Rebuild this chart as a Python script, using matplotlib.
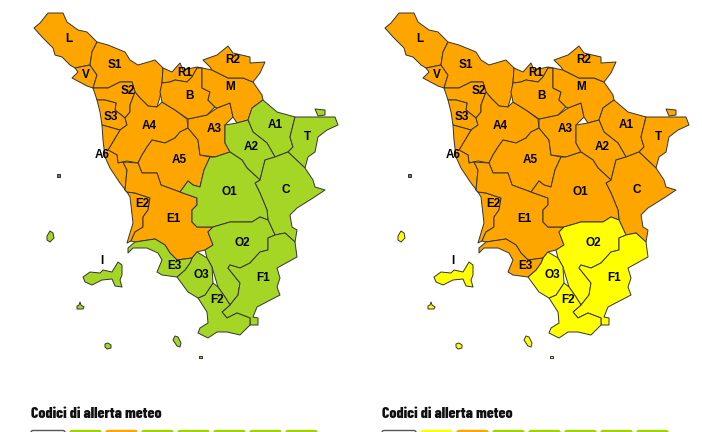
import matplotlib
matplotlib.use("Agg")
import matplotlib.pyplot as plt
from matplotlib.patches import Polygon, FancyBboxPatch

# Zone outlines (map units, left map)
L = [(48,13),(63,13),(67,22),(78,30),(87,32),(97,42),(92,52),(90,65),(75,68),(70,65),(62,57),(55,55),(53,48),(43,38),(34,28),(40,23)]
V = [(75,68),(90,65),(97,75),(93,88),(87,86),(72,78),(78,72)]
S1 = [(97,42),(108,45),(125,52),(130,60),(138,65),(155,60),(163,68),(162,83),(160,97),(157,107),(148,106),(140,98),(135,92),(132,82),(120,82),(108,88),(93,88),(97,75),(90,65),(92,52)]
S2 = [(93,88),(108,88),(120,82),(132,82),(135,92),(130,105),(130,112),(125,118),(115,110),(116,103),(105,100),(97,100)]
S3 = [(97,100),(105,100),(116,103),(115,110),(125,118),(127,125),(120,130),(102,125),(100,112)]
A4 = [(135,92),(140,98),(148,106),(157,107),(162,102),(175,110),(187,119),(188,128),(180,132),(175,138),(165,143),(152,140),(147,147),(142,155),(138,163),(127,161),(118,163),(117,155),(108,150),(120,130),(127,125),(125,118),(130,112),(130,105)]
A6 = [(102,125),(120,130),(108,150),(117,155),(118,163),(123,162),(127,170),(125,190),(127,192),(120,183),(110,168),(105,157),(103,140)]
A5 = [(152,140),(165,143),(175,138),(180,132),(188,128),(198,140),(200,155),(210,157),(204,170),(200,187),(193,185),(188,181),(180,192),(161,185),(157,173),(142,173),(138,163),(142,155),(147,147)]
E2 = [(127,192),(135,193),(150,198),(148,210),(143,217),(143,227),(135,232),(131,241),(127,243),(133,223),(130,197)]
E1 = [(123,162),(138,163),(142,173),(157,173),(161,185),(180,192),(197,198),(197,205),(192,210),(192,222),(197,227),(213,227),(208,232),(213,245),(205,250),(197,252),(192,258),(177,260),(170,253),(165,245),(155,239),(135,242),(131,241),(135,232),(143,227),(143,217),(148,210),(150,198),(135,193),(127,192),(125,190),(127,170)]
A3 = [(188,119),(207,115),(217,108),(230,103),(233,117),(225,125),(225,143),(230,152),(215,157),(200,155),(198,140),(188,128)]
R1 = [(163,68),(172,72),(180,63),(183,70),(197,67),(202,68),(197,68),(192,77),(187,82),(175,80),(170,82),(162,83)]
B = [(162,83),(170,82),(175,80),(187,82),(192,77),(197,68),(202,68),(202,88),(210,92),(208,100),(215,107),(207,115),(188,119),(175,110),(162,102),(160,92)]
M = [(202,68),(212,70),(228,78),(243,78),(253,82),(262,95),(263,100),(252,108),(248,120),(237,123),(233,117),(230,103),(217,108),(215,107),(208,100),(210,92),(202,88)]
R2 = [(203,60),(217,55),(228,46),(233,53),(250,57),(250,63),(265,62),(260,73),(253,82),(243,78),(228,78),(212,70),(210,67)]
A1 = [(252,108),(263,100),(277,112),(295,117),(290,137),(293,147),(288,152),(280,155),(275,157),(267,143),(253,132),(248,120)]
T = [(295,117),(315,117),(335,117),(338,125),(327,130),(318,137),(315,152),(308,157),(305,168),(288,152),(293,147),(290,137)]
T_BIT = [(315,109),(325,110),(325,115),(318,116)]
A2 = [(225,125),(237,123),(248,120),(253,132),(267,143),(275,157),(265,160),(260,180),(247,168),(242,160),(230,152),(225,143)]
C = [(275,157),(288,152),(305,168),(313,180),(315,187),(325,190),(313,198),(297,208),(290,215),(292,227),(297,230),(295,242),(285,233),(275,235),(268,220),(267,210),(260,193),(255,183),(260,180),(265,160)]
O1 = [(180,192),(188,181),(193,185),(200,187),(204,170),(210,157),(215,157),(230,152),(242,160),(247,168),(260,180),(255,183),(260,193),(267,210),(268,220),(260,217),(252,222),(230,222),(213,227),(197,227),(192,222),(192,210),(197,205),(197,198)]
O2 = [(213,227),(230,222),(252,222),(260,217),(268,220),(275,235),(268,238),(268,250),(260,252),(250,263),(240,268),(230,265),(228,268),(240,283),(238,295),(230,305),(225,297),(218,287),(212,267),(207,258),(205,250),(213,245),(208,232)]
F1 = [(275,235),(285,233),(295,242),(297,257),(277,268),(280,278),(277,287),(280,295),(257,307),(253,317),(258,318),(258,325),(250,325),(250,318),(237,313),(227,318),(222,312),(230,305),(238,295),(240,283),(228,268),(230,265),(240,268),(250,263),(260,252),(268,250),(268,238)]
F2 = [(213,283),(218,287),(225,297),(230,305),(222,312),(227,318),(237,313),(250,318),(250,325),(240,335),(227,332),(217,332),(208,338),(198,333),(200,328),(208,323),(207,312),(198,298),(205,295)]
O3 = [(192,258),(197,252),(207,258),(212,267),(213,283),(205,295),(198,298),(188,292),(177,277),(185,270),(190,263)]
E3 = [(128,253),(128,248),(135,242),(155,239),(165,245),(170,253),(177,260),(192,258),(190,263),(185,270),(177,277),(162,275),(157,272),(162,260),(158,253),(147,248),(133,248)]
ELBA = [(83,277),(90,272),(100,273),(103,270),(112,272),(118,262),(122,265),(122,275),(120,280),(122,287),(115,286),(112,279),(102,280),(92,285),(85,282)]
CAPRAIA = [(50,231),(53,233),(54,238),(50,242),(47,240),(47,236)]
PIANOSA = [(80,302),(81,305),(84,307),(83,309),(77,309),(77,306),(79,305)]
MONTECRISTO = [(108,343),(111,345),(111,348),(107,349),(105,347),(105,344)]
GIGLIO = [(175,336),(178,337),(181,343),(180,347),(177,346),(173,340)]
GIANNUTRI = [(199,356),(202,356),(202,358),(199,358)]
GORGONA = [(57,174),(60,174),(60,177),(57,177)]

orange_zones = [L, V, S1, S2, S3, A4, A6, A5, E2, E1, A3, R1, B, M, R2]
changing_zones = [A1, T, T_BIT, A2, C, O1]
south_zones = [O2, F1, F2, O3]
e3_zones = [E3]
islands = [ELBA, CAPRAIA, PIANOSA, MONTECRISTO, GIGLIO, GIANNUTRI]
gorgona = [GORGONA]

label_names = ["L", "S1", "V", "R1", "R2", "S2", "M", "B", "S3", "A4", "A3", "A1", "T", "A2", "A6",
               "A5", "O1", "C", "E2", "E1", "O2", "E3", "I", "O3", "F1", "F2"]
label_x = [69, 115, 86, 185, 233, 128, 230, 190, 111, 149, 214, 275, 307, 251, 102,
           179, 229, 286, 142, 173, 242, 174, 102, 201, 263, 217]
label_y = [39, 65, 75, 73, 60, 91, 87, 96, 117, 126, 129, 125, 137, 147, 155,
           160, 192, 190, 204, 219, 243, 266, 261, 275, 278, 300]

ORANGE = "#ffa500"
GREEN = "#a5d625"
YELLOW = "#ffff00"
LEG_GREEN = "#9fd400"

# one entry per map: x shift, colours of the zone groups, legend cells
map_shift = [0, 351]
changing_color = [GREEN, ORANGE]
south_color = [GREEN, YELLOW]
e3_color = [GREEN, ORANGE]
island_color = [GREEN, YELLOW]
legend_left = ["white", LEG_GREEN, ORANGE, LEG_GREEN, LEG_GREEN, LEG_GREEN, LEG_GREEN, LEG_GREEN]
legend_right = ["white", YELLOW, ORANGE, LEG_GREEN, LEG_GREEN, LEG_GREEN, LEG_GREEN, LEG_GREEN]
legend_cells = [legend_left, legend_right]
legend_title = "Codici di allerta meteo"

fig = plt.figure(figsize=(7.02, 4.32), dpi=100)
ax = fig.add_axes([0, 0, 1, 1])
ax.set_xlim(0, 702)
ax.set_ylim(432, 0)
ax.axis("off")


def draw_zones(zones, color, dx):
    for zone in zones:
        pts = [(x + dx, y) for x, y in zone]
        ax.add_patch(Polygon(pts, closed=True, facecolor=color, edgecolor="#333333",
                             linewidth=0.7, joinstyle="round"))


for i, dx in enumerate(map_shift):
    draw_zones(orange_zones, ORANGE, dx)
    draw_zones(changing_zones, changing_color[i], dx)
    draw_zones(south_zones, south_color[i], dx)
    draw_zones(e3_zones, e3_color[i], dx)
    draw_zones(islands, island_color[i], dx)
    draw_zones(gorgona, "#777777", dx)

    for name, x, y in zip(label_names, label_x, label_y):
        ax.text(x + dx, y, name, fontsize=8.5, fontweight="bold", color="black",
                ha="center", va="center", family="Liberation Sans")

    ax.text(31 + dx, 414, legend_title, fontsize=11.3, fontweight=800, color="#111111",
            ha="left", va="center", family=["Barlow Condensed", "Liberation Sans"])

    for k, color in enumerate(legend_cells[i]):
        # first cell is wider and has a grey frame
        x0 = 31 + dx if k == 0 else 70 + dx + 36 * (k - 1)
        w = 34 if k == 0 else 31
        edge = "#555555" if k == 0 else color
        ax.add_patch(FancyBboxPatch((x0, 430.5), w, 12, boxstyle="round,pad=0,rounding_size=2",
                                    facecolor=color, edgecolor=edge, linewidth=1))

fig.savefig("out.png", dpi=100)
